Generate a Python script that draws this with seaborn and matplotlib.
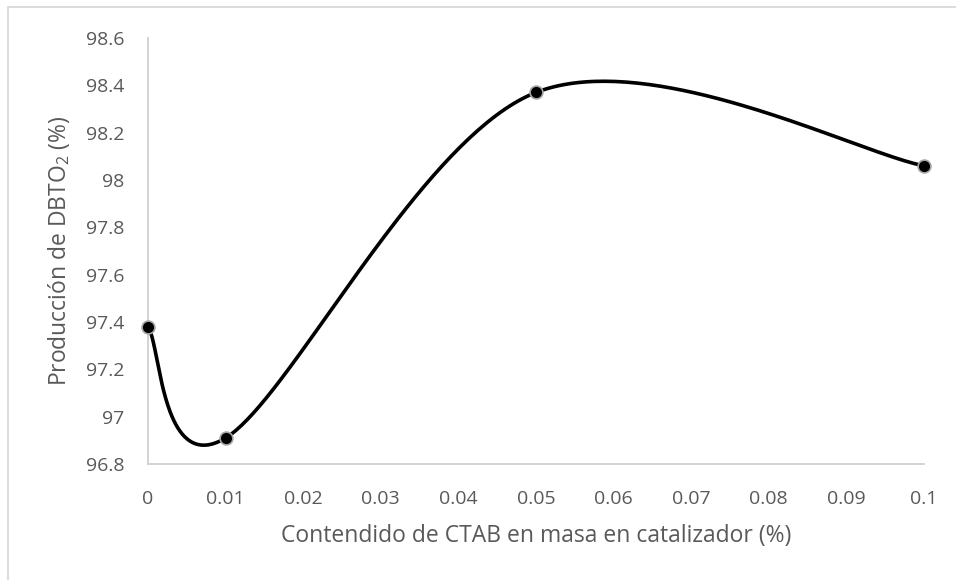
import numpy as np
import pandas as pd
import seaborn as sns
import matplotlib
matplotlib.use("Agg")
import matplotlib.pyplot as plt
from matplotlib.patches import Rectangle

# CTAB content in the catalyst (%) and DBTO2 yield (%)
ctab = [0.0, 0.01, 0.05, 0.1]
produccion = [97.38, 96.91, 98.37, 98.06]

x_ticks = [0, 0.01, 0.02, 0.03, 0.04, 0.05, 0.06, 0.07, 0.08, 0.09, 0.1]
x_labels = ["0", "0.01", "0.02", "0.03", "0.04", "0.05", "0.06", "0.07", "0.08", "0.09", "0.1"]
y_ticks = [96.8, 97.0, 97.2, 97.4, 97.6, 97.8, 98.0, 98.2, 98.4, 98.6]
y_labels = ["96.8", "97", "97.2", "97.4", "97.6", "97.8", "98", "98.2", "98.4", "98.6"]

sns.set_theme(style="white")
plt.rcParams["font.family"] = ["Open Sans", "DejaVu Sans"]
plt.rcParams["mathtext.fontset"] = "custom"
plt.rcParams["mathtext.rm"] = "Open Sans"
plt.rcParams["mathtext.it"] = "Open Sans"
plt.rcParams["mathtext.default"] = "regular"

TXT = "#595959"
AXC = "#d0d0d0"

fig = plt.figure(figsize=(9.56, 5.80), dpi=100)
ax = fig.add_axes([148 / 956, 1 - 464 / 580, (924 - 148) / 956, (464 - 38) / 580])

xlim = (0, 0.1)
ylim = (96.8, 98.6)
ax.set_xlim(xlim)
ax.set_ylim(ylim)

# Smoothed line: cubic Bezier segments with 1/6 tangent control points,
# built in screen-proportional space so the curve shape follows the axes aspect.
W, H = 924 - 148, 464 - 38
px = (np.array(ctab) - xlim[0]) / (xlim[1] - xlim[0]) * W
py = (np.array(produccion) - ylim[0]) / (ylim[1] - ylim[0]) * H
P = np.column_stack([px, py])
n = len(P)
curve = []
t = np.linspace(0, 1, 80)[:, None]
for i in range(n - 1):
    p0 = P[i - 1] if i > 0 else P[i]
    p1 = P[i]
    p2 = P[i + 1]
    p3 = P[i + 2] if i + 2 < n else P[i + 1]
    c1 = p1 + (p2 - p0) / 6.0
    c2 = p2 - (p3 - p1) / 6.0
    seg = ((1 - t) ** 3) * p1 + 3 * ((1 - t) ** 2) * t * c1 + 3 * (1 - t) * t ** 2 * c2 + t ** 3 * p2
    curve.append(seg if i == 0 else seg[1:])
curve = np.vstack(curve)
smooth = pd.DataFrame({
    "x": curve[:, 0] / W * (xlim[1] - xlim[0]) + xlim[0],
    "y": curve[:, 1] / H * (ylim[1] - ylim[0]) + ylim[0],
})
ax.plot(smooth["x"], smooth["y"], color="black", lw=2.6, solid_capstyle="round", zorder=2, clip_on=False)

pts = pd.DataFrame({"ctab": ctab, "produccion": produccion})
sns.scatterplot(data=pts, x="ctab", y="produccion", ax=ax, s=85, color="black",
                edgecolor="#a6a6a6", linewidth=1.2, zorder=3, clip_on=False)

ax.set_xticks(x_ticks)
ax.set_xticklabels(x_labels)
ax.set_yticks(y_ticks)
ax.set_yticklabels(y_labels)
ax.tick_params(axis="both", length=0, labelsize=14, colors=TXT)
ax.tick_params(axis="x", pad=19)
ax.tick_params(axis="y", pad=17)

for side in ["top", "right"]:
    ax.spines[side].set_visible(False)
for side in ["left", "bottom"]:
    ax.spines[side].set_color(AXC)
    ax.spines[side].set_linewidth(1.3)

ax.set_xlabel("Contendido de CTAB en masa en catalizador (%)", fontsize=16.5, color=TXT, labelpad=11)
ax.set_ylabel("Producción de DBTO$_2$ (%)", fontsize=16.5, color=TXT, labelpad=10)

# Chart area frame
fig.patches.append(Rectangle((8 / 956, -0.1), 1.2, 1 - 7 / 580 + 0.1, transform=fig.transFigure,
                             fill=False, edgecolor="#d9d9d9", linewidth=1.3))

fig.savefig("out.png", dpi=100)
